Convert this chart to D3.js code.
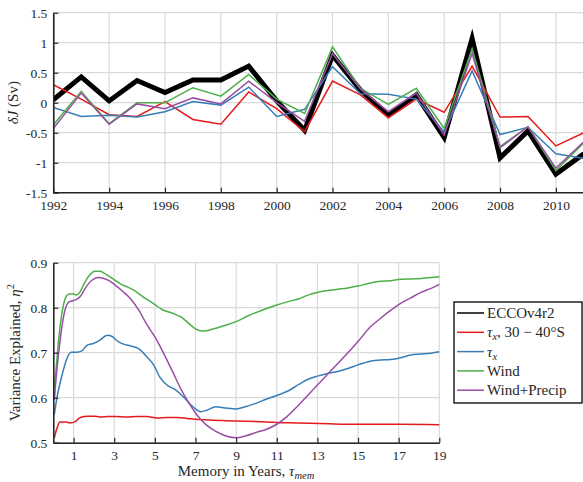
<!DOCTYPE html>
<html>
<head>
<meta charset="utf-8">
<script src="https://cdn.jsdelivr.net/npm/d3@7"></script>
<style>
  html, body { margin: 0; padding: 0; background: #fff; }
  svg { display: block; }
  text { font-family: "Liberation Serif", "Times New Roman", serif; fill: #262626; }
</style>
</head>
<body>
<svg id="chart" width="583" height="482"></svg>
<script>
// ---- Top panel: yearly transport anomaly, 1992-2011 ----
const years = d3.range(1992, 2012);
const eccoJ   = [0.05, 0.43, 0.03, 0.37, 0.17, 0.38, 0.38, 0.61, 0.03, -0.46, 0.79, 0.21, -0.21, 0.13, -0.58, 1.07, -0.92, -0.47, -1.19, -0.85];
const tauBandJ = [0.30, 0.06, -0.20, -0.23, 0.02, -0.28, -0.36, 0.18, -0.10, -0.48, 0.36, 0.13, -0.25, 0.06, -0.16, 0.61, -0.24, -0.23, -0.72, -0.50];
const tauXJ   = [-0.08, -0.23, -0.21, -0.24, -0.15, 0.02, -0.04, 0.26, -0.23, -0.11, 0.60, 0.15, 0.14, 0.06, -0.49, 0.53, -0.53, -0.41, -0.85, -0.93];
const windJ   = [-0.37, 0.19, -0.35, 0.00, 0.00, 0.25, 0.11, 0.47, 0.06, -0.18, 0.93, 0.24, -0.03, 0.24, -0.43, 0.90, -0.73, -0.40, -1.13, -0.67];
const windPrecipJ = [-0.43, 0.16, -0.36, -0.02, -0.10, 0.08, -0.02, 0.36, 0.00, -0.31, 0.82, 0.23, -0.15, 0.16, -0.54, 0.82, -0.75, -0.40, -1.09, -0.65];
const topXTicks = d3.range(1992, 2011, 2);
const topYTicks = [-1.5, -1, -0.5, 0, 0.5, 1, 1.5];

// ---- Bottom panel: variance explained vs memory (tau, eta^2) ----
const tauBandEta = [[0.05,0.511],[0.18,0.532],[0.32,0.546],[0.6,0.546],[0.85,0.544],[1.08,0.547],[1.33,0.556],[1.7,0.559],[2.0,0.559],[2.3,0.557],[2.7,0.558],[3.1,0.558],[3.6,0.557],[4.1,0.558],[4.6,0.558],[5.1,0.555],[5.6,0.556],[6.1,0.556],[6.6,0.554],[7.0,0.552],[8.0,0.55],[9.0,0.548],[10.0,0.547],[11.0,0.545],[12.0,0.544],[13.6,0.542],[15.0,0.541],[17.0,0.541],[19.0,0.54]];
const tauXEta = [[0.05,0.563],[0.2,0.605],[0.43,0.65],[0.67,0.687],[0.87,0.701],[1.15,0.701],[1.4,0.704],[1.65,0.716],[2.0,0.721],[2.3,0.728],[2.65,0.739],[2.9,0.736],[3.15,0.726],[3.45,0.719],[3.8,0.715],[4.2,0.709],[4.6,0.691],[4.95,0.672],[5.25,0.645],[5.6,0.628],[6.0,0.618],[6.4,0.602],[6.75,0.585],[7.0,0.575],[7.25,0.569],[7.55,0.572],[8.0,0.58],[8.5,0.577],[9.0,0.575],[9.45,0.58],[10.0,0.588],[10.5,0.597],[11.0,0.605],[11.6,0.616],[12.1,0.63],[12.6,0.642],[13.0,0.648],[13.5,0.654],[14.0,0.658],[14.5,0.665],[15.0,0.673],[15.6,0.681],[16.1,0.684],[16.6,0.685],[17.1,0.689],[17.6,0.695],[18.1,0.697],[18.6,0.699],[19.0,0.702]];
const windEta = [[0.05,0.624],[0.15,0.67],[0.26,0.728],[0.4,0.78],[0.55,0.815],[0.75,0.83],[0.95,0.831],[1.15,0.828],[1.3,0.834],[1.5,0.852],[1.8,0.873],[2.05,0.881],[2.3,0.881],[2.6,0.874],[3.0,0.862],[3.3,0.853],[3.7,0.845],[4.0,0.838],[4.45,0.823],[4.8,0.813],[5.0,0.807],[5.35,0.796],[5.9,0.787],[6.3,0.779],[6.75,0.762],[7.0,0.753],[7.35,0.748],[7.9,0.753],[8.4,0.76],[9.0,0.769],[9.6,0.782],[10.3,0.795],[11.0,0.806],[11.6,0.814],[12.1,0.82],[12.6,0.829],[13.0,0.834],[13.5,0.838],[14.0,0.841],[14.5,0.844],[15.0,0.848],[15.45,0.853],[16.0,0.858],[16.6,0.86],[17.1,0.863],[17.6,0.864],[18.1,0.865],[18.6,0.867],[19.0,0.869]];
const windPrecipEta = [[0.05,0.595],[0.15,0.65],[0.26,0.698],[0.4,0.75],[0.55,0.79],[0.75,0.812],[1.0,0.816],[1.2,0.82],[1.35,0.826],[1.57,0.843],[1.9,0.861],[2.2,0.867],[2.5,0.865],[2.75,0.86],[3.0,0.852],[3.4,0.837],[3.8,0.82],[4.2,0.795],[4.6,0.763],[5.0,0.735],[5.45,0.697],[5.85,0.66],[6.25,0.622],[6.65,0.59],[7.0,0.566],[7.25,0.552],[7.55,0.539],[8.0,0.525],[8.5,0.515],[9.0,0.511],[9.45,0.515],[10.0,0.523],[10.5,0.53],[11.0,0.541],[11.5,0.558],[12.0,0.58],[12.5,0.604],[13.0,0.628],[13.5,0.652],[14.0,0.676],[14.5,0.70],[15.0,0.725],[15.6,0.757],[16.1,0.776],[16.6,0.794],[17.0,0.807],[17.6,0.822],[18.1,0.834],[18.6,0.843],[19.0,0.852]];
const botXTicks = [1, 3, 5, 7, 9, 11, 13, 15, 17, 19];
const botYTicks = [0.5, 0.6, 0.7, 0.8, 0.9];

const legendLabels = ["ECCOv4r2", "tauBand", "tauX", "Wind", "Wind+Precip"];
const colors = { ecco: "#000000", tauBand: "#e41a1c", tauX: "#377eb8", wind: "#4daf4a", windPrecip: "#984ea3" };

const serif = '"Liberation Serif", "Times New Roman", serif';
const svg = d3.select("#chart").attr("font-family", serif);
svg.append("rect").attr("width", 583).attr("height", 482).attr("fill", "#fff");

const gridColor = "#dadada";
const axisColor = "#262626";

function drawGrid(g, x, y, xt, yt) {
  g.append("g").selectAll("line").data(xt).join("line")
    .attr("x1", d => x(d)).attr("x2", d => x(d))
    .attr("y1", y.range()[0]).attr("y2", y.range()[1])
    .attr("stroke", gridColor).attr("stroke-width", 1.2);
  g.append("g").selectAll("line").data(yt).join("line")
    .attr("y1", d => y(d)).attr("y2", d => y(d))
    .attr("x1", x.range()[0]).attr("x2", x.range()[1])
    .attr("stroke", gridColor).attr("stroke-width", 1.2);
}

function drawAxes(g, x, y, xt, yt, xfmt, yfmt) {
  const ax = g.append("g").attr("transform", `translate(0,${y.range()[0]})`)
    .call(d3.axisBottom(x).tickValues(xt).tickFormat(xfmt).tickSizeInner(-5).tickSizeOuter(0).tickPadding(8));
  const ay = g.append("g").attr("transform", `translate(${x.range()[0]},0)`)
    .call(d3.axisLeft(y).tickValues(yt).tickFormat(yfmt).tickSizeInner(-5).tickSizeOuter(0).tickPadding(6));
  [ax, ay].forEach(a => {
    a.attr("font-family", serif).attr("font-size", 13.5);
    a.select(".domain").attr("stroke", axisColor).attr("stroke-width", 1.6);
    a.selectAll(".tick line").attr("stroke", axisColor).attr("stroke-width", 1.2);
    a.selectAll(".tick text").attr("fill", axisColor)
      .style("font-family", serif).style("font-size", "13.5px");
  });
  return { ax, ay };
}

// ---------- Top panel ----------
const xTop = d3.scaleLinear().domain([1992, 2011]).range([53.3, 583.8]);
const yTop = d3.scaleLinear().domain([-1.5, 1.5]).range([192.7, 12.7]);
const topPanel = svg.append("g");
drawGrid(topPanel, xTop, yTop, topXTicks, topYTicks);

svg.append("clipPath").attr("id", "clipTop").append("rect")
  .attr("x", 53.3).attr("y", 0).attr("width", 540).attr("height", 200);

const lineTop = d3.line().x((d, i) => xTop(years[i])).y(d => yTop(d));
const topSeries = [
  { v: eccoJ, c: colors.ecco, w: 5 },
  { v: tauBandJ, c: colors.tauBand, w: 1.5 },
  { v: tauXJ, c: colors.tauX, w: 1.5 },
  { v: windJ, c: colors.wind, w: 1.5 },
  { v: windPrecipJ, c: colors.windPrecip, w: 1.5 }
];
const topLines = topPanel.append("g").attr("clip-path", "url(#clipTop)");
topSeries.forEach(s => {
  topLines.append("path").attr("d", lineTop(s.v))
    .attr("fill", "none").attr("stroke", s.c).attr("stroke-width", s.w)
    .attr("stroke-linejoin", "miter").attr("stroke-miterlimit", 10);
});
const topAx = drawAxes(topPanel, xTop, yTop, topXTicks, topYTicks, d => String(d), d => String(d));
topAx.ax.select(".domain").attr("d", `M${xTop.range()[0]},0H583`);

// y label: δJ (Sv)
const tyl = topPanel.append("text")
  .attr("transform", "translate(18,102.7) rotate(-90)")
  .attr("text-anchor", "middle").style("font-size", "15px");
tyl.append("tspan").style("font-style", "italic").text("δJ");
tyl.append("tspan").text(" (Sv)");

// ---------- Bottom panel ----------
const xBot = d3.scaleLinear().domain([0, 19]).range([53.3, 439.3]);
const yBot = d3.scaleLinear().domain([0.5, 0.9]).range([442.7, 262.7]);
const botPanel = svg.append("g");
drawGrid(botPanel, xBot, yBot, botXTicks, botYTicks);

const lineBot = d3.line().x(d => xBot(d[0])).y(d => yBot(d[1])).curve(d3.curveMonotoneX);
const botSeries = [
  { v: tauBandEta, c: colors.tauBand },
  { v: tauXEta, c: colors.tauX },
  { v: windEta, c: colors.wind },
  { v: windPrecipEta, c: colors.windPrecip }
];
botSeries.forEach(s => {
  botPanel.append("path").attr("d", lineBot(s.v))
    .attr("fill", "none").attr("stroke", s.c).attr("stroke-width", 1.5)
    .attr("stroke-linejoin", "round");
});
drawAxes(botPanel, xBot, yBot, botXTicks, botYTicks, d => String(d), d3.format(".1f"));

// y label: Variance Explained, η²
const byl = botPanel.append("text")
  .attr("transform", "translate(20,352.7) rotate(-90)")
  .attr("text-anchor", "middle").style("font-size", "15px");
byl.append("tspan").text("Variance Explained, ");
byl.append("tspan").style("font-style", "italic").text("η");
byl.append("tspan").attr("dy", -6).style("font-size", "10.5px").text("2");

// x label: Memory in Years, τ_mem
const bxl = botPanel.append("text")
  .attr("x", 246).attr("y", 476)
  .attr("text-anchor", "middle").style("font-size", "15px");
bxl.append("tspan").text("Memory in Years, ");
bxl.append("tspan").style("font-style", "italic").text("τ");
bxl.append("tspan").attr("dy", 3).style("font-style", "italic").style("font-size", "10.5px").text("mem");

// ---------- Legend ----------
const leg = svg.append("g");
leg.append("rect").attr("x", 454).attr("y", 302).attr("width", 128).attr("height", 101)
  .attr("fill", "#fff").attr("stroke", "#000").attr("stroke-width", 1.3);
const legItems = [
  { key: legendLabels[0], c: colors.ecco },
  { key: legendLabels[1], c: colors.tauBand },
  { key: legendLabels[2], c: colors.tauX },
  { key: legendLabels[3], c: colors.wind },
  { key: legendLabels[4], c: colors.windPrecip }
];
legItems.forEach((it, i) => {
  const cy = 313 + i * 19.3;
  leg.append("line").attr("x1", 457).attr("x2", 484).attr("y1", cy).attr("y2", cy)
    .attr("stroke", it.c).attr("stroke-width", 1.5);
  const t = leg.append("text").attr("x", 487).attr("y", cy + 5).style("font-size", "15px").attr("fill", "#000");
  if (it.key === "tauBand") {
    t.append("tspan").style("font-style", "italic").text("τ");
    t.append("tspan").attr("dy", 3).style("font-style", "italic").style("font-size", "10.5px").text("x");
    t.append("tspan").attr("dy", -3).text(", 30 − 40°S");
  } else if (it.key === "tauX") {
    t.append("tspan").style("font-style", "italic").text("τ");
    t.append("tspan").attr("dy", 3).style("font-style", "italic").style("font-size", "10.5px").text("x");
  } else {
    t.text(it.key);
  }
});
</script>
</body>
</html>
